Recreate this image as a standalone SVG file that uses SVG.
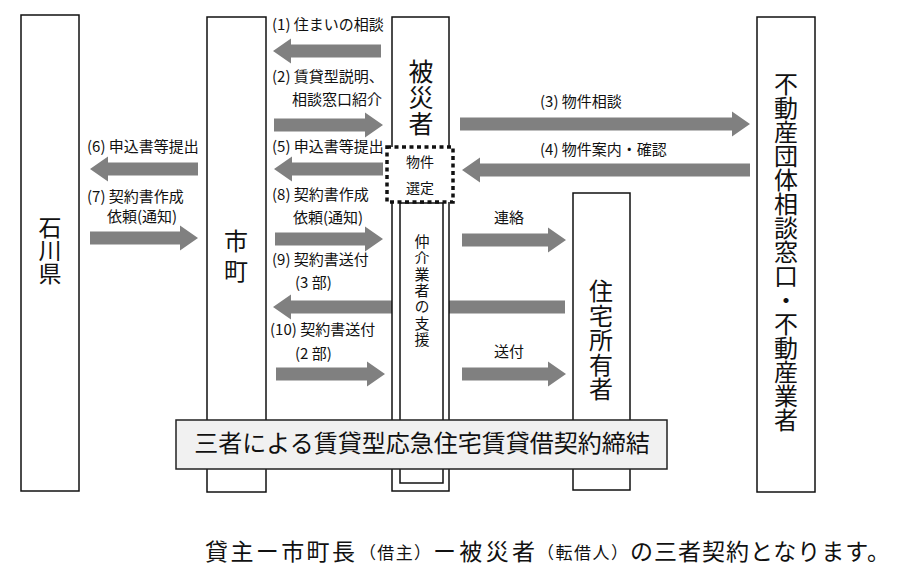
<svg xmlns="http://www.w3.org/2000/svg" width="900" height="571" viewBox="0 0 900 571">
<style>
  text { font-family: "Noto Sans CJK JP", "Noto Sans", sans-serif; fill: #111; }
  .lbl { font-size: 15px; }
  .node { fill: #fff; stroke: #111; stroke-width: 1.5; }
  .vt { writing-mode: vertical-rl; text-orientation: upright; }
  .arr { fill: #808080; stroke: none; }
  .cap { font-size: 23px; }
  .caps { font-size: 17px; }
</style>
<rect x="0" y="0" width="900" height="571" fill="#fff"/>

<g id="connectors">
  <path class="arr" d="M273,51 L291,38.5 V44.5 H381 V57.5 H291 V63.5 Z"/>
  <path class="arr" d="M274,118.5 H365 V112.5 L383,125 L365,137.5 V131.5 H274 Z"/>
  <path class="arr" d="M274,169 L292,156.5 V162.5 H383 V175.5 H292 V181.5 Z"/>
  <path class="arr" d="M90,169 L108,156.5 V162.5 H198 V175.5 H108 V181.5 Z"/>
  <path class="arr" d="M90,231.5 H180 V225.5 L198,238 L180,250.5 V244.5 H90 Z"/>
  <path class="arr" d="M275,232.5 H365 V226.5 L383,239 L365,251.5 V245.5 H275 Z"/>
  <path class="arr" d="M273,307 L291,294.5 V300.5 H565 V313.5 H291 V319.5 Z"/>
  <path class="arr" d="M276,367.5 H367 V361.5 L385,374 L367,386.5 V380.5 H276 Z"/>
  <path class="arr" d="M462,367.5 H548 V361.5 L566,374 L548,386.5 V380.5 H462 Z"/>
  <path class="arr" d="M462,233.5 H548 V227.5 L566,240 L548,252.5 V246.5 H462 Z"/>
  <path class="arr" d="M460,117.5 H732 V111.5 L750,124 L732,136.5 V130.5 H460 Z"/>
  <path class="arr" d="M462,170 L480,157.5 V163.5 H750 V176.5 H480 V182.5 Z"/>
</g>

<g id="labels">
  <text class="lbl" x="272" y="30">(1) 住まいの相談</text>
  <text class="lbl" x="272" y="82">(2) 賃貸型説明、</text>
  <text class="lbl" x="292" y="105">相談窓口紹介</text>
  <text class="lbl" x="272" y="152">(5) 申込書等提出</text>
  <text class="lbl" x="87" y="152">(6) 申込書等提出</text>
  <text class="lbl" x="87" y="202">(7) 契約書作成</text>
  <text class="lbl" x="107" y="222">依頼(通知)</text>
  <text class="lbl" x="272" y="200">(8) 契約書作成</text>
  <text class="lbl" x="293" y="223">依頼(通知)</text>
  <text class="lbl" x="272" y="265">(9) 契約書送付</text>
  <text class="lbl" x="295" y="288">(3 部)</text>
  <text class="lbl" x="270" y="335">(10) 契約書送付</text>
  <text class="lbl" x="295" y="359">(2 部)</text>
  <text class="lbl" x="494" y="223">連絡</text>
  <text class="lbl" x="494" y="357">送付</text>
  <text class="lbl" x="540" y="107">(3) 物件相談</text>
  <text class="lbl" x="540" y="155">(4) 物件案内・確認</text>
</g>

<g id="node-ishikawa">
  <rect class="node" x="21" y="15" width="58" height="476"/>
  <text class="vt" x="50" y="216" style="font-size:23px">石川県</text>
</g>

<g id="node-shicho">
  <rect class="node" x="207" y="17" width="59" height="475"/>
  <text class="vt" x="236" y="229" style="font-size:24px;letter-spacing:6px">市町</text>
</g>

<g id="node-hisaisha">
  <rect class="node" x="392" y="17" width="57" height="474"/>
  <text class="vt" x="421" y="59" style="font-size:25px;letter-spacing:1px">被災者</text>
</g>

<g id="node-chukai">
  <rect class="node" x="400" y="203" width="43" height="280"/>
  <text class="vt" x="422" y="234" style="font-size:15px;letter-spacing:1.3px">仲介業者の支援</text>
</g>

<g id="node-bukken">
  <rect x="387" y="147" width="66" height="55" fill="#fff" stroke="#111" stroke-width="3.5" stroke-dasharray="4 3.5"/>
  <text style="font-size:14px;text-anchor:middle" x="420" y="167">物件</text>
  <text style="font-size:14px;text-anchor:middle" x="420" y="193">選定</text>
</g>

<g id="node-owner">
  <rect class="node" x="573" y="193" width="57" height="297"/>
  <text class="vt" x="601" y="279" style="font-size:24px;letter-spacing:0.5px">住宅所有者</text>
</g>

<g id="node-fudosan">
  <rect class="node" x="757" y="17" width="58" height="475"/>
  <text class="vt" x="786" y="72" style="font-size:24px">不動産団体相談窓口・不動産業者</text>
</g>

<g id="node-contract">
  <rect x="176" y="420" width="491" height="49" fill="#f1f1f1" stroke="#222" stroke-width="1.5"/>
  <text x="422" y="452" style="font-size:24px;text-anchor:middle">三者による賃貸型応急住宅賃貸借契約締結</text>
</g>

<g id="caption">
  <text class="cap" x="205" y="560" textLength="150">貸主ー市町長</text>
  <text class="caps" x="359" y="559" textLength="72">（借主）</text>
  <text class="cap" x="433" y="560" textLength="102">ー被災者</text>
  <text class="caps" x="537" y="559" textLength="91">（転借人）</text>
  <text class="cap" x="630" y="560" textLength="260">の三者契約となります。</text>
</g>
</svg>
